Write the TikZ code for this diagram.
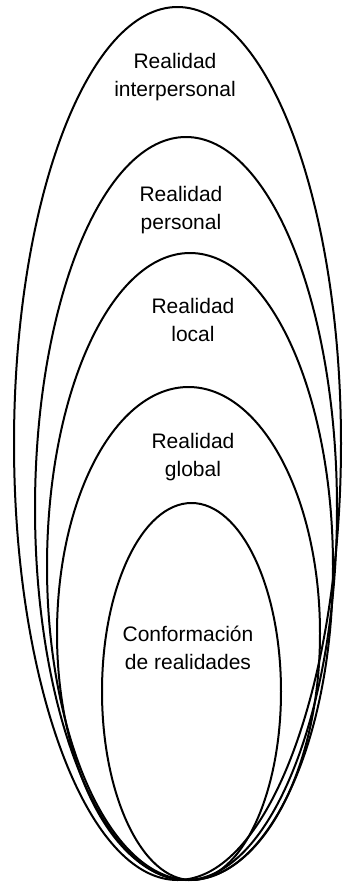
\documentclass[tikz,border=0pt]{standalone}
\usepackage{fontspec}
\setmainfont{Liberation Sans}
\tikzset{
  ring/.style={draw=black, line width=2pt},
  lbl/.style={anchor=base, inner sep=0pt, font=\fontsize{21}{28}\selectfont}
}
\newcommand{\twolines}[2]{\begin{tabular}[t]{@{}c@{}}#1\\#2\end{tabular}}
\begin{document}
\begin{tikzpicture}[x=1pt, y=-1pt]
\useasboundingbox (0,0) rectangle (343,884);
% nested ellipses, all touching at the bottom
\draw[ring] (177.5,443.5) ellipse [x radius=163.5pt, y radius=436.5pt];
\draw[ring] (186,508.5) ellipse [x radius=151pt, y radius=371.5pt];
\draw[ring] (190,566.5) ellipse [x radius=143pt, y radius=313.5pt];
\draw[ring] (188.5,633.5) ellipse [x radius=131.5pt, y radius=246.5pt];
\draw[ring] (191.5,691.5) ellipse [x radius=89.5pt, y radius=188.5pt];
% labels
\node[lbl] (t1) at (175,68) {\twolines{Realidad}{interpersonal}};
\node[lbl] (t2) at (181,201.7) {\twolines{Realidad}{personal}};
\node[lbl] (t3) at (193,313.7) {\twolines{Realidad}{local}};
\node[lbl] (t4) at (193,448.3) {\twolines{Realidad}{global}};
\node[lbl] (t5) at (188,641.7) {\twolines{Conformación}{de realidades}};
\end{tikzpicture}
\end{document}
